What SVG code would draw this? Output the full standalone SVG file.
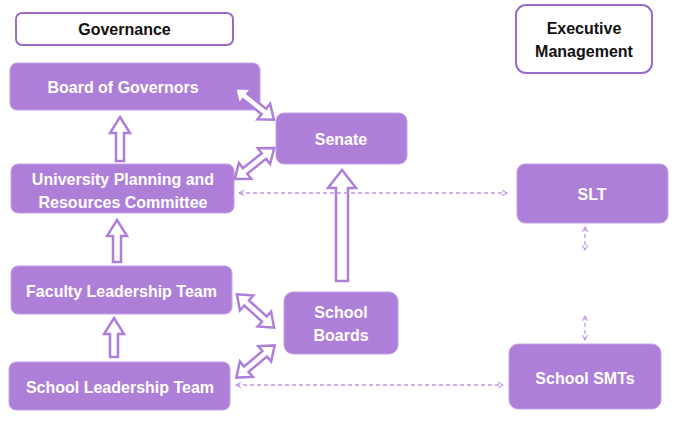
<svg xmlns="http://www.w3.org/2000/svg" width="674" height="423" viewBox="0 0 674 423">
<defs>
<style>
.node{fill:#AE7FD9;stroke:#C4A2E6;stroke-width:1}
.hdr{fill:#fff;stroke:#9A6CC6;stroke-width:2}
.t{font-family:"Liberation Sans",Arial,sans-serif;font-weight:bold;font-size:16px;fill:#fff;text-anchor:middle}
.th{font-family:"Liberation Sans",Arial,sans-serif;font-weight:bold;font-size:16px;fill:#111;text-anchor:middle}
.blk{fill:#fff;stroke:#AE7FD9;stroke-width:2.5;stroke-linejoin:miter}
.dash{fill:none;stroke:#BE98E2;stroke-width:1.3;stroke-dasharray:4 3;marker-start:url(#ch);marker-end:url(#ch)}
</style>
<marker id="ch" viewBox="0 0 10 10" refX="9" refY="5" markerWidth="7" markerHeight="7" orient="auto-start-reverse" markerUnits="userSpaceOnUse">
<path d="M2,1 L9,5 L2,9" fill="none" stroke="#BE98E2" stroke-width="1.5"/>
</marker>
<polygon id="dbl" points="-25,0 -12,-10 -12,-3.5 12,-3.5 12,-10 25,0 12,10 12,3.5 -12,3.5 -12,10"/>
</defs>

<g id="governance">
<rect class="hdr" x="16" y="13" width="217" height="32" rx="6"/>
<text class="th" x="124.5" y="35">Governance</text>
</g>
<g id="executive-management">
<rect class="hdr" x="516" y="5" width="136" height="68" rx="10"/>
<text class="th" x="584" y="34">Executive</text>
<text class="th" x="584" y="57">Management</text>
</g>

<g id="board-of-governors">
<rect class="node" x="10" y="63" width="250" height="47" rx="7"/>
<text class="t" x="123" y="92.5">Board of Governors</text>
</g>
<g id="senate">
<rect class="node" x="276" y="113" width="131" height="51" rx="8"/>
<text class="t" x="341" y="144.5">Senate</text>
</g>
<g id="uprc">
<rect class="node" x="11" y="164" width="223" height="49" rx="7"/>
<text class="t" x="123" y="184.5">University Planning and</text>
<text class="t" x="123" y="207.5">Resources Committee</text>
</g>
<g id="slt">
<rect class="node" x="517" y="164" width="151" height="59" rx="8"/>
<text class="t" x="592" y="199.5">SLT</text>
</g>
<g id="faculty-leadership-team">
<rect class="node" x="11" y="266" width="221" height="48" rx="7"/>
<text class="t" x="121.5" y="296.5">Faculty Leadership Team</text>
</g>
<g id="school-boards">
<rect class="node" x="284" y="292" width="114" height="62" rx="9"/>
<text class="t" x="341" y="317.5">School</text>
<text class="t" x="341" y="340.5">Boards</text>
</g>
<g id="school-leadership-team">
<rect class="node" x="9" y="362" width="221" height="48" rx="7"/>
<text class="t" x="120" y="392.5">School Leadership Team</text>
</g>
<g id="school-smts">
<rect class="node" x="509" y="344" width="152" height="65" rx="9"/>
<text class="t" x="585" y="383.5">School SMTs</text>
</g>

<g id="connectors">
<polygon class="blk" points="120,117 130,133 124,133 124,161 116,161 116,133 110,133"/>
<polygon class="blk" points="117,220 127,236 121,236 121,262 113,262 113,236 107,236"/>
<polygon class="blk" points="114,318 124,334 118,334 118,357 110,357 110,334 104,334"/>
<polygon class="blk" points="342,170 356,188 348,188 348,281 336,281 336,188 328,188"/>
<use href="#dbl" class="blk" transform="translate(254.5,104) rotate(39)"/>
<use href="#dbl" class="blk" transform="translate(254.5,163.5) rotate(-38)"/>
<use href="#dbl" class="blk" transform="translate(255.5,311) rotate(42)"/>
<use href="#dbl" class="blk" transform="translate(255.5,361.5) rotate(-40)"/>
<line class="dash" x1="239" y1="193" x2="507" y2="193"/>
<line class="dash" x1="236" y1="385" x2="503" y2="385"/>
<line class="dash" x1="585" y1="227" x2="585" y2="250"/>
<line class="dash" x1="585" y1="316" x2="585" y2="340"/>
</g>
</svg>
